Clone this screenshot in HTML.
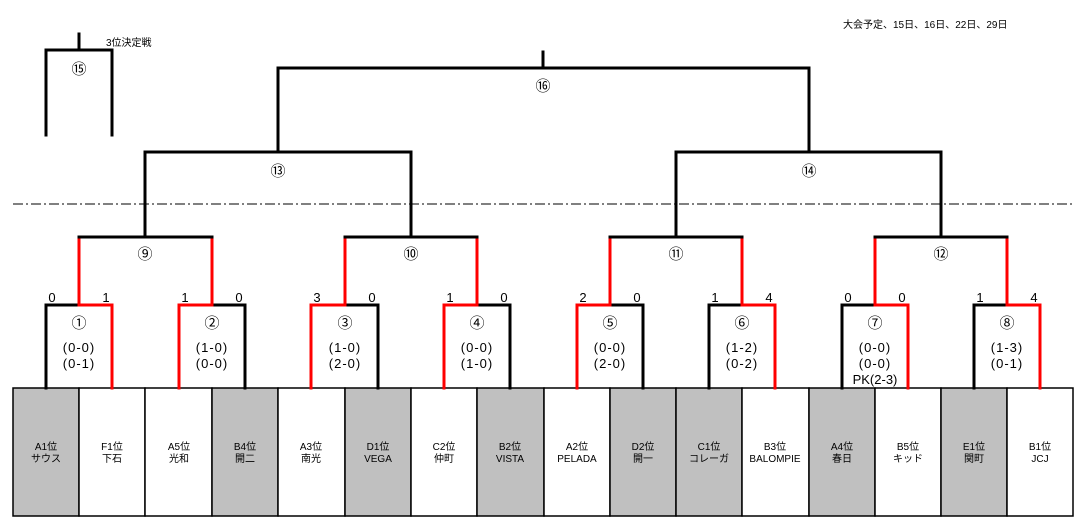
<!DOCTYPE html>
<html><head><meta charset="utf-8"><style>
html,body{margin:0;padding:0;background:#fff;}
svg{display:block;font-family:"Liberation Sans","Noto Sans CJK JP",sans-serif;}
.c{font-family:"Noto Sans CJK JP",sans-serif;font-size:15px;}
</style></head><body>
<svg width="1084" height="529" viewBox="0 0 1084 529" xmlns="http://www.w3.org/2000/svg">
<g stroke="#000" stroke-width="1.5">
<rect x="13" y="388" width="66" height="128" fill="#c0c0c0"/>
<rect x="79" y="388" width="66" height="128" fill="#fff"/>
<rect x="145" y="388" width="67" height="128" fill="#fff"/>
<rect x="212" y="388" width="66" height="128" fill="#c0c0c0"/>
<rect x="278" y="388" width="67" height="128" fill="#fff"/>
<rect x="345" y="388" width="66" height="128" fill="#c0c0c0"/>
<rect x="411" y="388" width="66" height="128" fill="#fff"/>
<rect x="477" y="388" width="67" height="128" fill="#c0c0c0"/>
<rect x="544" y="388" width="66" height="128" fill="#fff"/>
<rect x="610" y="388" width="66" height="128" fill="#c0c0c0"/>
<rect x="676" y="388" width="66" height="128" fill="#c0c0c0"/>
<rect x="742" y="388" width="67" height="128" fill="#fff"/>
<rect x="809" y="388" width="66" height="128" fill="#c0c0c0"/>
<rect x="875" y="388" width="66" height="128" fill="#fff"/>
<rect x="941" y="388" width="66" height="128" fill="#c0c0c0"/>
<rect x="1007" y="388" width="66" height="128" fill="#fff"/>
</g>
<g font-size="10" text-anchor="middle" fill="#000">
<text x="46" y="450">A1位</text><text x="46" y="462">サウス</text>
<text x="112" y="450">F1位</text><text x="112" y="462">下石</text>
<text x="179" y="450">A5位</text><text x="179" y="462">光和</text>
<text x="245" y="450">B4位</text><text x="245" y="462">開二</text>
<text x="311" y="450">A3位</text><text x="311" y="462">南光</text>
<text x="378" y="450">D1位</text><text x="378" y="462">VEGA</text>
<text x="444" y="450">C2位</text><text x="444" y="462">仲町</text>
<text x="510" y="450">B2位</text><text x="510" y="462">VISTA</text>
<text x="577" y="450">A2位</text><text x="577" y="462">PELADA</text>
<text x="643" y="450">D2位</text><text x="643" y="462">開一</text>
<text x="709" y="450">C1位</text><text x="709" y="462">コレーガ</text>
<text x="775" y="450">B3位</text><text x="775" y="462">BALOMPIE</text>
<text x="842" y="450">A4位</text><text x="842" y="462">春日</text>
<text x="908" y="450">B5位</text><text x="908" y="462">キッド</text>
<text x="974" y="450">E1位</text><text x="974" y="462">関町</text>
<text x="1040" y="450">B1位</text><text x="1040" y="462">JCJ</text>
</g>
<g fill="none" stroke-width="3" stroke-linecap="square">
<path d="M46 388V305H79" stroke="#000"/><path d="M79 305H112V388" stroke="#f00"/>
<path d="M179 388V305H212" stroke="#f00"/><path d="M212 305H245V388" stroke="#000"/>
<path d="M311 388V305H345" stroke="#f00"/><path d="M345 305H378V388" stroke="#000"/>
<path d="M444 388V305H477" stroke="#f00"/><path d="M477 305H510V388" stroke="#000"/>
<path d="M577 388V305H610" stroke="#f00"/><path d="M610 305H643V388" stroke="#000"/>
<path d="M709 388V305H742" stroke="#000"/><path d="M742 305H775V388" stroke="#f00"/>
<path d="M842 388V305H875" stroke="#000"/><path d="M875 305H908V388" stroke="#f00"/>
<path d="M974 388V305H1007" stroke="#000"/><path d="M1007 305H1040V388" stroke="#f00"/>
<g stroke="#f00">
<path d="M79 305V237"/><path d="M212 305V237"/><path d="M345 305V237"/><path d="M477 305V237"/>
<path d="M610 305V237"/><path d="M742 305V237"/><path d="M875 305V237"/><path d="M1007 305V237"/>
</g>
<g stroke="#000">
<path d="M79 237H212"/><path d="M345 237H477"/><path d="M610 237H742"/><path d="M875 237H1007"/>
<path d="M145 237V152H411V237"/><path d="M676 237V152H941V237"/>
<path d="M278 152V68H809V152"/><path d="M543 68V52"/>
<path d="M46 135V50H112V135"/><path d="M79 50V34"/>
</g>
</g>
<line x1="13" y1="204" x2="1073" y2="204" stroke="#000" stroke-width="1" stroke-dasharray="10,3,2,3"/>
<g text-anchor="middle" fill="#000" class="c">
<text x="79" y="74">⑮</text>
<text x="543" y="91">⑯</text>
<text x="278" y="176">⑬</text>
<text x="809" y="176">⑭</text>
<text x="145" y="259">⑨</text><text x="411" y="259">⑩</text><text x="676" y="259">⑪</text><text x="941" y="259">⑫</text>
<text x="79" y="328">①</text><text x="212" y="328">②</text><text x="345" y="328">③</text><text x="477" y="328">④</text>
<text x="610" y="328">⑤</text><text x="742" y="328">⑥</text><text x="875" y="328">⑦</text><text x="1007" y="328">⑧</text>
</g>
<g font-size="13" text-anchor="middle" fill="#000" letter-spacing="1">
<text x="79" y="352">(0-0)</text><text x="79" y="368">(0-1)</text>
<text x="212" y="352">(1-0)</text><text x="212" y="368">(0-0)</text>
<text x="345" y="352">(1-0)</text><text x="345" y="368">(2-0)</text>
<text x="477" y="352">(0-0)</text><text x="477" y="368">(1-0)</text>
<text x="610" y="352">(0-0)</text><text x="610" y="368">(2-0)</text>
<text x="742" y="352">(1-2)</text><text x="742" y="368">(0-2)</text>
<text x="875" y="352">(0-0)</text><text x="875" y="368">(0-0)</text><text x="875" y="384" letter-spacing="0">PK(2-3)</text>
<text x="1007" y="352">(1-3)</text><text x="1007" y="368">(0-1)</text>
</g>
<g font-size="13" text-anchor="middle" fill="#000">
<text x="52" y="302">0</text><text x="106" y="302">1</text>
<text x="185" y="302">1</text><text x="239" y="302">0</text>
<text x="317" y="302">3</text><text x="372" y="302">0</text>
<text x="450" y="302">1</text><text x="504" y="302">0</text>
<text x="583" y="302">2</text><text x="637" y="302">0</text>
<text x="715" y="302">1</text><text x="769" y="302">4</text>
<text x="848" y="302">0</text><text x="902" y="302">0</text>
<text x="980" y="302">1</text><text x="1034" y="302">4</text>
</g>
<text x="106" y="46" font-size="10">3位決定戦</text>
<text x="843" y="28" font-size="10">大会予定、15日、16日、22日、29日</text>
</svg>
</body></html>
